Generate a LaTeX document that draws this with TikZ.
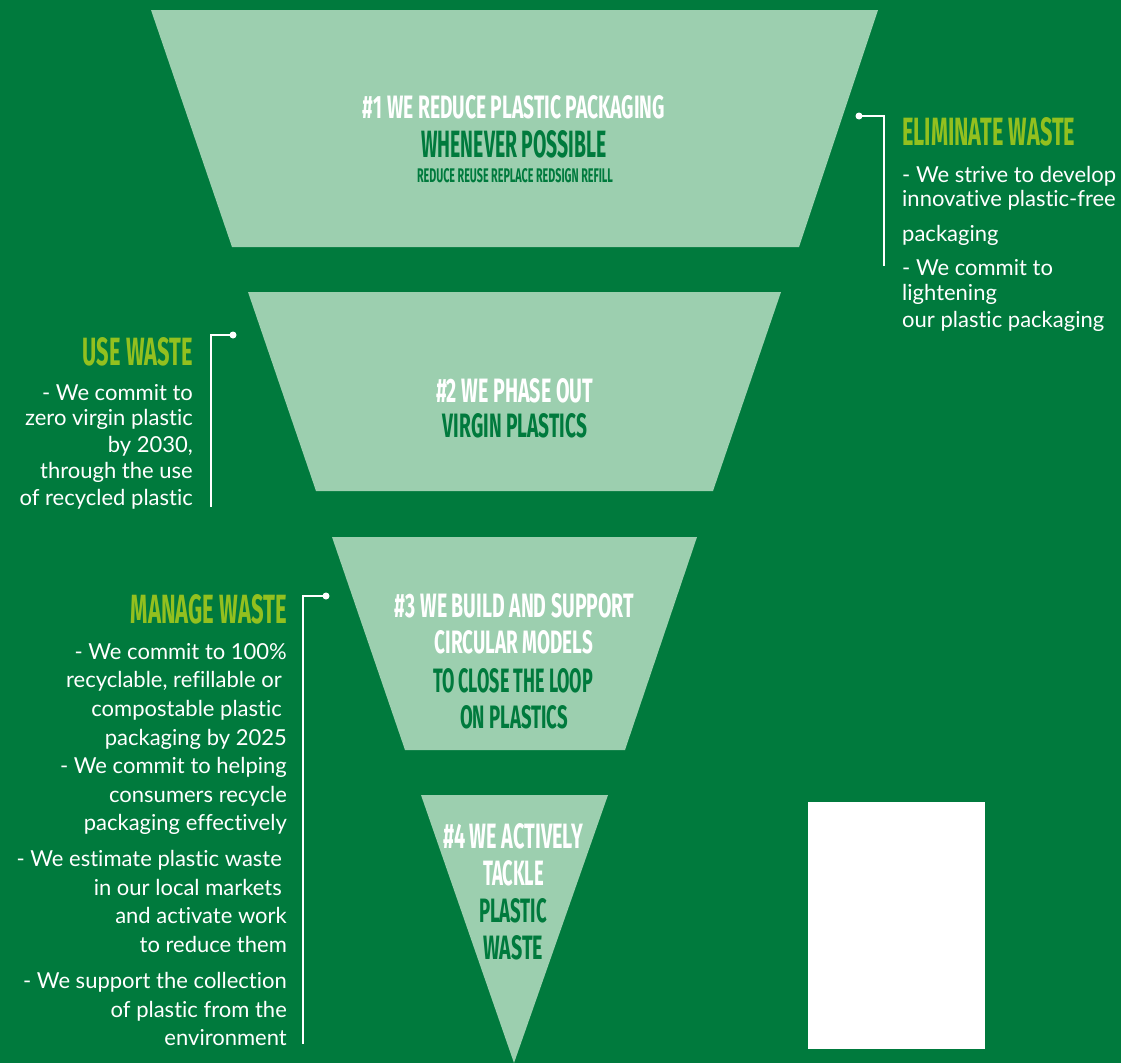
\documentclass[tikz,border=0pt]{standalone}
\usepackage{fontspec}
\usepackage{graphicx}
\setmainfont{Lato}[Ligatures={NoCommon}]
\newfontfamily\headfont{Fira Sans}
\definecolor{bggreen}{HTML}{007A3D}
\definecolor{lightgreen}{HTML}{9CCFAF}
\definecolor{darkgreen}{HTML}{007A3D}
\definecolor{lime}{HTML}{93C01F}
\newcommand\hd[3]{\resizebox{#1pt}{#2pt}{\headfont\bfseries #3}}
\begin{document}
\begin{tikzpicture}[x=1pt,y=-1pt,
  shapefill/.style={fill=lightgreen,draw=none},
  headtxt/.style={inner sep=0pt,anchor=base},
  headw/.style={headtxt,text=white},
  headg/.style={headtxt,text=darkgreen},
  headl/.style={inner sep=0pt,text=lime},
  body/.style={inner sep=0pt,text=white,font=\fontsize{22}{26}\selectfont},
  link/.style={draw=white,line width=2pt},
  dotstyle/.style={circle,fill=white,inner sep=0pt,minimum size=7pt}]
\fill[bggreen] (0,0) rectangle (1121,1063);
\useasboundingbox (0,0) rectangle (1121,1063);
% shapes
\fill[shapefill] (151,10) -- (878,10) -- (799,247) -- (232,247) -- cycle;
\fill[shapefill] (248,292) -- (781,292) -- (713,491) -- (316,491) -- cycle;
\fill[shapefill] (332,537) -- (697,537) -- (625,750) -- (405,750) -- cycle;
\fill[shapefill] (421,795) -- (608,795) -- (514,1063) -- cycle;
\fill[white] (808,802) rectangle (985,1049);
% stage 1
\node[headw] (h1a) at (514,118) {\hd{302}{23}{\#1 WE REDUCE PLASTIC PACKAGING}};
\node[headg] (h1b) at (514,157) {\hd{185}{27}{WHENEVER POSSIBLE}};
\node[headg] (h1c) at (515,182) {\hd{196}{14}{REDUCE REUSE REPLACE REDSIGN REFILL}};
% stage 2
\node[headw] (h2a) at (514.5,402) {\hd{157}{24}{\#2 WE PHASE OUT}};
\node[headg] (h2b) at (515,437) {\hd{144}{24}{VIRGIN PLASTICS}};
% stage 3
\node[headw] (h3a) at (514.5,617) {\hd{239}{24}{\#3 WE BUILD AND SUPPORT}};
\node[headw] (h3b) at (514,653) {\hd{158}{23}{CIRCULAR MODELS}};
\node[headg] (h3c) at (513,692) {\hd{160}{24}{TO CLOSE THE LOOP}};
\node[headg] (h3d) at (514,728) {\hd{108}{23}{ON PLASTICS}};
% stage 4
\node[headw] (h4a) at (513,848) {\hd{140}{25}{\#4 WE ACTIVELY}};
\node[headw] (h4b) at (513.5,885) {\hd{61}{25}{TACKLE}};
\node[headg] (h4c) at (513,922) {\hd{68}{24}{PLASTIC}};
\node[headg] (h4d) at (513,959) {\hd{60}{24}{WASTE}};
% eliminate waste
\node[headl,anchor=base west] (elt) at (902,145) {\hd{173}{28}{ELIMINATE WASTE}};
\node[body,anchor=base west] (e1) at (902,182) {- We strive to develop};
\node[body,anchor=base west] (e2) at (902,206) {innovative plastic-free};
\node[body,anchor=base west] (e3) at (902,241) {packaging};
\node[body,anchor=base west] (e4) at (902,275) {- We commit to};
\node[body,anchor=base west] (e5) at (902,300) {lightening};
\node[body,anchor=base west] (e6) at (902,327) {our plastic packaging};
\node[dotstyle] (d1) at (859,116) {};
\coordinate (c1a) at (884,116);
\coordinate (c1b) at (884,266);
\draw[link] (d1.center) -- (c1a) -- (c1b);
% use waste
\node[headl,anchor=base east] (ut) at (193,365) {\hd{110}{28}{USE WASTE}};
\node[body,anchor=base east] (u1) at (193,400) {- We commit to};
\node[body,anchor=base east] (u2) at (193,425) {zero virgin plastic};
\node[body,anchor=base east] (u3) at (193,452) {by 2030,};
\node[body,anchor=base east] (u4) at (193,478) {through the use};
\node[body,anchor=base east] (u5) at (193,505) {of recycled plastic};
\node[dotstyle] (d2) at (233,335) {};
\coordinate (c2a) at (211,335);
\coordinate (c2b) at (211,507);
\draw[link] (d2.center) -- (c2a) -- (c2b);
% manage waste
\node[headl,anchor=base east] (mt) at (287,623) {\hd{156}{29}{MANAGE WASTE}};
\node[body,anchor=base east] (m1) at (287,659) {- We commit to 100\%};
\node[body,anchor=base east] (m2) at (282,687) {recyclable, refillable or};
\node[body,anchor=base east] (m3) at (282,716) {compostable plastic};
\node[body,anchor=base east] (m4) at (287,745) {packaging by 2025};
\node[body,anchor=base east] (m5) at (287,773) {- We commit to helping};
\node[body,anchor=base east] (m6) at (287,802) {consumers recycle};
\node[body,anchor=base east] (m7) at (287,830) {packaging effectively};
\node[body,anchor=base east] (m8) at (282,866) {- We estimate plastic waste};
\node[body,anchor=base east] (m9) at (282,895) {in our local markets};
\node[body,anchor=base east] (m10) at (287,923) {and activate work};
\node[body,anchor=base east] (m11) at (287,952) {to reduce them};
\node[body,anchor=base east] (m12) at (287,988) {- We support the collection};
\node[body,anchor=base east] (m13) at (287,1017) {of plastic from the};
\node[body,anchor=base east] (m14) at (287,1045) {environment};
\node[dotstyle] (d3) at (326,596) {};
\coordinate (c3a) at (303,596);
\coordinate (c3b) at (303,1044);
\draw[link] (d3.center) -- (c3a) -- (c3b);
\end{tikzpicture}
\end{document}
